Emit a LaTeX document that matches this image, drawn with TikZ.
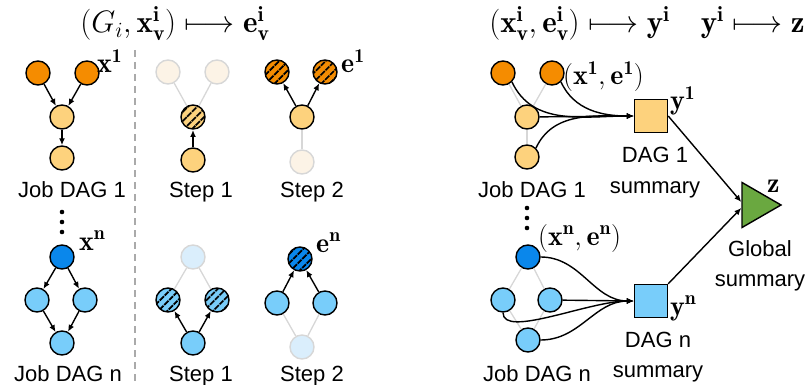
\documentclass[tikz,border=0pt]{standalone}
\usepackage{fix-cm}
\usepackage{fontspec}
\setsansfont{Liberation Sans}
\usetikzlibrary{arrows.meta, shapes.geometric, patterns.meta, calc}

\definecolor{darkor}{RGB}{245,140,0}
\definecolor{lightor}{RGB}{253,210,125}
\definecolor{darkbl}{RGB}{10,135,235}
\definecolor{lightbl}{RGB}{120,205,250}
\definecolor{fadeor}{RGB}{252,243,230}
\definecolor{fadebl}{RGB}{218,238,252}
\definecolor{fadeline}{RGB}{215,215,215}
\definecolor{tgreen}{RGB}{106,168,64}
\definecolor{dashgray}{RGB}{170,170,170}

\begin{document}
\begin{tikzpicture}[
            x=1pt, y=-1pt,
            >={Latex[length=7pt,width=6pt]},
            vtx/.style={circle, draw=black, line width=1.4pt, minimum size=24pt, inner sep=0pt},
            darko/.style={vtx, fill=darkor},
            lighto/.style={vtx, fill=lightor},
            darkb/.style={vtx, fill=darkbl},
            lightb/.style={vtx, fill=lightbl},
            fadeo/.style={vtx, draw=fadeline, fill=fadeor},
            fadeb/.style={vtx, draw=fadeline, fill=fadebl},
            hatch/.style={vtx, preaction={fill=#1}, pattern={Lines[angle=45,distance=6.5pt,line width=2pt]}, pattern color=black},
            edge/.style={->, line width=1.4pt},
            ghost/.style={draw=fadeline, line width=1.3pt},
            summ/.style={rectangle, draw=black, line width=1.4pt, minimum size=33pt, inner sep=0pt},
            txt/.style={font=\sffamily\fontsize{22}{30}\selectfont, anchor=base, align=center},
            lab/.style={font=\fontsize{28}{34}\selectfont, anchor=base west, inner sep=0pt},
            ttl/.style={font=\fontsize{31}{36}\selectfont, anchor=base}
        ]
\useasboundingbox (0,0) rectangle (811,385);

% Titles
            \node[ttl] (ttlA) at (175,33) {$(G_i,\mathbf{x}^{\mathbf{i}}_{\mathbf{v}})\longmapsto\mathbf{e}^{\mathbf{i}}_{\mathbf{v}}$};
            \node[ttl] (ttlB) at (647,33) {$(\mathbf{x}^{\mathbf{i}}_{\mathbf{v}},\mathbf{e}^{\mathbf{i}}_{\mathbf{v}})\longmapsto\mathbf{y}^{\mathbf{i}}\quad\mathbf{y}^{\mathbf{i}}\longmapsto\mathbf{z}$};

% Separator
            \draw[dashgray, line width=1.4pt, dash pattern=on 7pt off 5pt] (135,50) -- (135,385);

% Job DAG 1
            \node[darko] (a1) at (38,73) {};
            \node[darko] (a2) at (87,73) {};
            \node[lighto] (a3) at (62,117) {};
            \node[lighto] (a4) at (62,158) {};
            \draw[edge] (a1) -- (a3);
            \draw[edge] (a2) -- (a3);
            \draw[edge] (a3) -- (a4);
            \node[lab] (xa) at (97,73) {$\mathbf{x}^{\mathbf{1}}$};
            \node[txt] (ja) at (72,197) {Job DAG 1};

% Step 1 (DAG 1)
            \node[fadeo] (b1) at (168,72) {};
            \node[fadeo] (b2) at (217,72) {};
            \node[hatch=lightor] (b3) at (193,117) {};
            \node[lighto] (b4) at (193,160) {};
            \draw[ghost] (b1) -- (b3);
            \draw[ghost] (b2) -- (b3);
            \draw[edge] (b4) -- (b3);
            \node[txt] (sa1) at (201,197) {Step 1};

% Step 2 (DAG 1)
            \node[hatch=darkor] (c1) at (277,72) {};
            \node[hatch=darkor] (c2) at (325,72) {};
            \node[lighto] (c3) at (302,117) {};
            \node[fadeo] (c4) at (302,162) {};
            \draw[edge] (c3) -- (c1);
            \draw[edge] (c3) -- (c2);
            \draw[ghost] (c3) -- (c4);
            \node[lab] (ea) at (341,73) {$\mathbf{e}^{\mathbf{1}}$};
            \node[txt] (sa2) at (312,197) {Step 2};

% Dots
            \foreach \y in {212,222,232} {
                \fill (62,\y) circle (2.3pt);
                \fill (527,\y-4) circle (2.3pt);
            }

% Job DAG n
            \node[darkb] (d1) at (62,257) {};
            \node[lightb] (d2) at (37,300) {};
            \node[lightb] (d3) at (85,300) {};
            \node[lightb] (d4) at (62,343) {};
            \draw[edge] (d1) -- (d2);
            \draw[edge] (d1) -- (d3);
            \draw[edge] (d2) -- (d4);
            \draw[edge] (d3) -- (d4);
            \node[lab] (xn) at (79,250) {$\mathbf{x}^{\mathbf{n}}$};
            \node[txt] (jn) at (68,381) {Job DAG n};

% Step 1 (DAG n)
            \node[fadeb] (f1) at (193,257) {};
            \node[hatch=lightbl] (f2) at (168,300) {};
            \node[hatch=lightbl] (f3) at (217,300) {};
            \node[lightb] (f4) at (193,343) {};
            \draw[ghost] (f1) -- (f2);
            \draw[ghost] (f1) -- (f3);
            \draw[edge] (f4) -- (f2);
            \draw[edge] (f4) -- (f3);
            \node[txt] (sn1) at (201,381) {Step 1};

% Step 2 (DAG n)
            \node[hatch=darkbl] (g1) at (300,259) {};
            \node[lightb] (g2) at (277,303) {};
            \node[lightb] (g3) at (325,303) {};
            \node[fadeb] (g4) at (302,347) {};
            \draw[edge] (g2) -- (g1);
            \draw[edge] (g3) -- (g1);
            \draw[ghost] (g2) -- (g4);
            \draw[ghost] (g3) -- (g4);
            \node[lab] (en) at (316,252) {$\mathbf{e}^{\mathbf{n}}$};
            \node[txt] (sn2) at (312,381) {Step 2};

% DAG 1 summary
            \node[darko] (r1) at (503,73) {};
            \node[darko] (r2) at (552,73) {};
            \node[lighto] (r3) at (527,117) {};
            \node[lighto] (r4) at (527,157) {};
            \draw[ghost] (r1) -- (r3);
            \draw[ghost] (r2) -- (r3);
            \draw[ghost] (r3) -- (r4);
            \node[summ, fill=lightor] (s1) at (651,116) {};
            \draw[edge] (r1.south east) to[out=-65, in=180] (s1.west);
            \draw[edge] (r2.south east) to[out=-65, in=180] (s1.west);
            \draw[edge] (r3) -- (s1.west);
            \draw[edge] (r4.north east) to[out=65, in=180] (s1.west);
            \node[lab] (xe1) at (563,85) {$(\mathbf{x}^{\mathbf{1}},\mathbf{e}^{\mathbf{1}})$};
            \node[lab] (y1) at (670,110) {$\mathbf{y}^{\mathbf{1}}$};
            \node[txt] (jr1) at (532,197) {Job DAG 1};
            \node[txt] (ds1) at (655,193) {DAG 1\\summary};

% DAG n summary
            \node[darkb] (q1) at (528,257) {};
            \node[lightb] (q2) at (503,300) {};
            \node[lightb] (q3) at (550,300) {};
            \node[lightb] (q4) at (528,340) {};
            \draw[ghost] (q1) -- (q2);
            \draw[ghost] (q1) -- (q3);
            \draw[ghost] (q2) -- (q4);
            \draw[ghost] (q3) -- (q4);
            \node[summ, fill=lightbl] (s2) at (651,301) {};
            \draw[edge] (q1.east) to[out=0, in=180] (s2.west);
            \draw[edge] (q2.south) .. controls +(0,26) and +(-45,0) .. (s2.west);
            \draw[edge] (q3) -- (s2.west);
            \draw[edge] (q4.east) to[out=0, in=180] (s2.west);
            \node[lab] (xen) at (538,245) {$(\mathbf{x}^{\mathbf{n}},\mathbf{e}^{\mathbf{n}})$};
            \node[lab] (yn) at (670,315) {$\mathbf{y}^{\mathbf{n}}$};
            \node[txt] (jrn) at (537,381) {Job DAG n};
            \node[txt] (dsn) at (658,377) {DAG n\\summary};

% Global summary
            \node[regular polygon, regular polygon sides=3, shape border rotate=-90, draw=black, line width=1.4pt, fill=tgreen, minimum size=52pt, inner sep=0pt] (tri) at (755,205) {};
            \draw[edge] (s1.east) -- ($(tri.west)+(0,-3)$);
            \draw[edge] (s2.north east) -- ($(tri.west)+(0,3)$);
            \node[lab] (zz) at (767,192) {$\mathbf{z}$};
            \node[txt] (gs) at (760,286) {Global\\summary};

        \end{tikzpicture}
\end{document}
